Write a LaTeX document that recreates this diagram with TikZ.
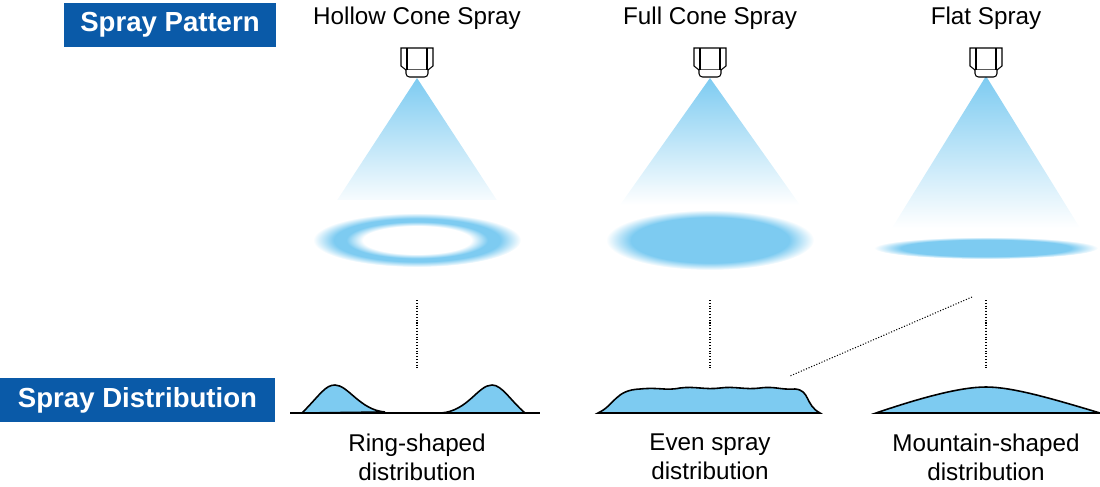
\documentclass[tikz,border=0pt]{standalone}
\usepackage{fontspec}
\setmainfont{Liberation Sans}
\usetikzlibrary{positioning}
\definecolor{navy}{HTML}{0A5AA8}
\definecolor{sky}{HTML}{7DCBF1}
\pgfdeclareradialshading{ringshade}{\pgfpoint{0bp}{0bp}}{color(0bp)=(white); color(13bp)=(white); color(17bp)=(sky); color(20bp)=(sky); color(25bp)=(white); color(50bp)=(white)}
\pgfdeclareradialshading{discshade}{\pgfpoint{0bp}{0bp}}{color(0bp)=(sky); color(19bp)=(sky); color(25bp)=(white); color(50bp)=(white)}
\tikzset{
  headbox/.style={fill=navy, text=white, font=\fontsize{15.7}{18}\selectfont\bfseries, minimum height=0.88cm, inner sep=0pt},
  title/.style={font=\fontsize{13.8}{16}\selectfont},
  caption/.style={font=\fontsize{13.8}{16.5}\selectfont, align=center},
  guide/.style={densely dotted, line width=0.6pt},
  curve/.style={fill=sky, draw=black, line width=0.9pt}
}
\newcommand{\nozzle}[2]{%
  \draw[line width=0.6pt, fill=white] (#1-16,#2) -- (#1+16,#2) -- (#1+16,#2+18) -- (#1+11,#2+22) -- (#1-11,#2+22) -- (#1-16,#2+18) -- cycle;
  \draw[line width=0.6pt] (#1-10,#2) -- (#1-10,#2+22) (#1+10,#2) -- (#1+10,#2+22);
  \draw[line width=0.6pt, fill=white, rounded corners=2] (#1-11,#2+22) -- (#1-11,#2+29) -- (#1+11,#2+29) -- (#1+11,#2+22);
}
\begin{document}
\begin{tikzpicture}[x=0.02cm, y=-0.02cm]
  \useasboundingbox (0,0) rectangle (1100,487);

  % headings
  \node[headbox, minimum width=4.24cm] (pattern) at (170,25) {Spray Pattern};
  \node[headbox, minimum width=5.5cm] (distrib) at (137.5,400) {Spray Distribution};
  \node[title] (hollow) at (417,18) {Hollow Cone Spray};
  \node[title] (full) at (710,18) {Full Cone Spray};
  \node[title] (flat) at (986,18) {Flat Spray};

  % spray cones
  \shade[top color=sky, bottom color=white] (417,78) -- (502,208) -- (332,208) -- cycle;
  \shade[top color=sky, bottom color=white] (710,78) -- (800,205) -- (620,205) -- cycle;
  \shade[top color=sky, bottom color=white] (986,76) -- (1080,228) -- (892,228) -- cycle;
  \fill[white] (320,200) rectangle (520,218);
  \shade[shading=ringshade] (417,240) ellipse [x radius=104, y radius=27];
  \shade[shading=discshade] (710,240) ellipse [x radius=104, y radius=30];
  \shade[shading=discshade] (986,248) ellipse [x radius=112, y radius=11];

  % nozzles
  \nozzle{417}{48}
  \nozzle{710}{48}
  \nozzle{986}{48}

  % guides
  \coordinate (g1) at (417,300); \coordinate (h1) at (417,368);
  \coordinate (g2) at (710,300); \coordinate (h2) at (710,368);
  \coordinate (g3) at (986,300); \coordinate (h3) at (986,368);
  \coordinate (d1) at (972,297); \coordinate (d2) at (790,376);
  \draw[guide] (g1) -- (h1);
  \draw[guide] (g2) -- (h2);
  \draw[guide] (g3) -- (h3);
  \draw[guide] (d1) -- (d2);

  % distributions
  \draw[curve] (302,413) .. controls (320,395) and (325,385) .. (335,385) .. controls (348,385) and (360,410) .. (385,412) -- cycle;
  \draw[curve] (441,413) .. controls (468,411) and (478,385) .. (492,385) .. controls (502,385) and (510,400) .. (525,413) -- cycle;
  \draw[line width=0.8pt] (290,413) -- (540,413);
  \draw[curve] (598,413) .. controls (615,405) and (615,390) .. (640,389)
    .. controls (660,387) and (665,391) .. (680,388) .. controls (695,386) and (705,390) .. (720,388)
    .. controls (735,386) and (745,390) .. (760,388) .. controls (775,386) and (780,390) .. (795,389)
    .. controls (810,390) and (805,405) .. (820,413) -- cycle;
  \draw[curve] (876,413) .. controls (920,398) and (960,387) .. (986,387) .. controls (1012,387) and (1050,398) .. (1100,413) -- cycle;

  % captions
  \node[caption] (ring) at (417,457) {Ring-shaped\\distribution};
  \node[caption] (even) at (710,457) {Even spray\\distribution};
  \node[caption] (mount) at (986,457) {Mountain-shaped\\distribution};
\end{tikzpicture}
\end{document}
